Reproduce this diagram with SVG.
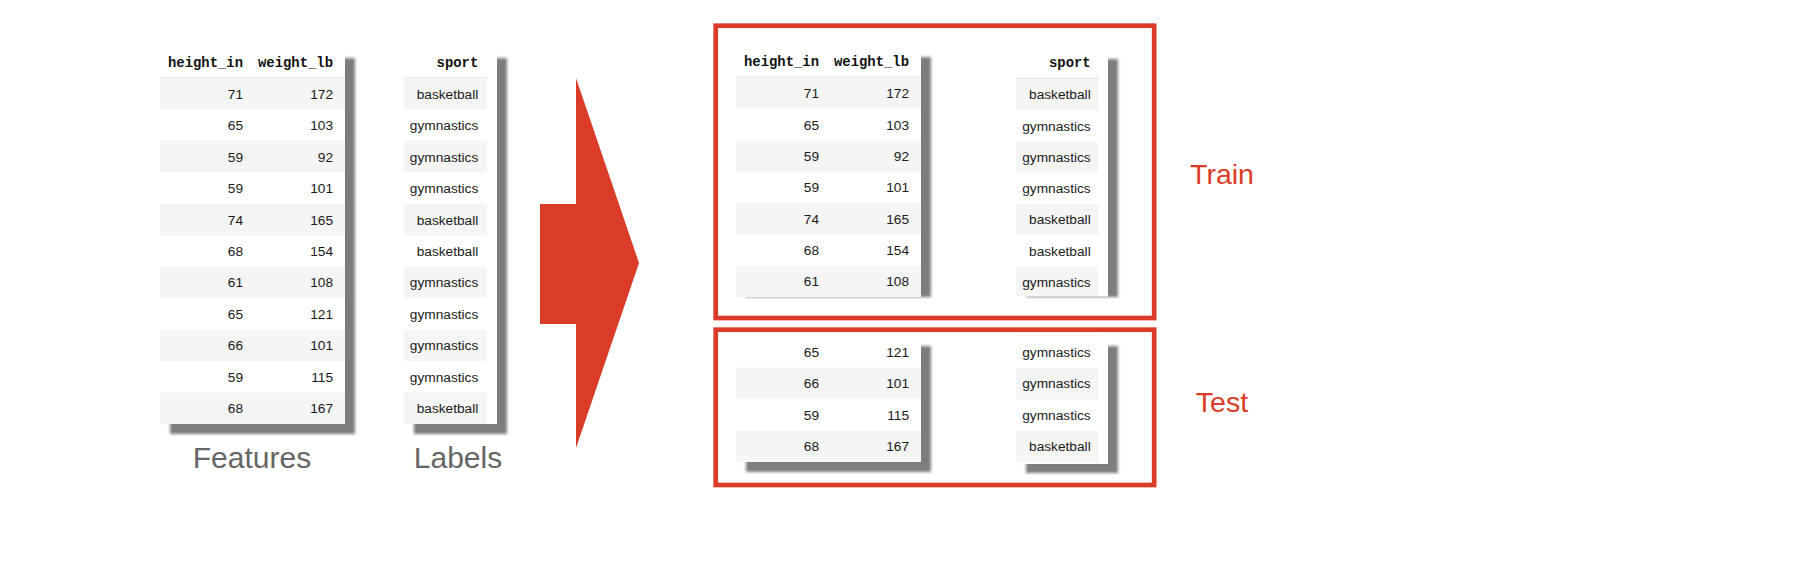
<svg xmlns="http://www.w3.org/2000/svg" width="1804" height="580" viewBox="0 0 1804 580">
<defs>
<filter id="sh" x="-10%" y="-10%" width="120%" height="120%"><feGaussianBlur stdDeviation="1.4"/></filter>
<style>
.shadow{fill:#7d7d7d;filter:url(#sh)}
.tbl{fill:#ffffff}
.stripe{fill:#f5f5f5}
.hline{stroke:#dddddd;stroke-width:1}
.hd{font-family:"Liberation Mono","Courier New",monospace;font-weight:bold;font-size:13.9px;fill:#111;text-anchor:end}
.d{font-family:"Liberation Sans",Arial,Helvetica,sans-serif;font-size:13.7px;fill:#1a1a1a;text-anchor:end}
.cap{font-family:"Liberation Sans",Arial,Helvetica,sans-serif;font-size:30px;fill:#666666;text-anchor:middle}
.red{fill:#da3c27}
.box{fill:none;stroke:#da3c27;stroke-width:4.7}
.split{font-family:"Liberation Sans",Arial,Helvetica,sans-serif;font-size:28.5px;fill:#da3c27;text-anchor:middle}
</style>
</defs>
<rect width="1804" height="580" fill="#ffffff"/>

<g id="features-table">
<rect class="shadow" x="170" y="58" width="185" height="376"/>
<rect class="tbl" x="160" y="48" width="185" height="376"/>
<line class="hline" x1="160" y1="78" x2="345" y2="78"/>
<text class="hd" x="243" y="66.7">height_in</text>
<text class="hd" x="333" y="66.7">weight_lb</text>
<rect class="stripe" x="160" y="78.5" width="185" height="30.95"/>
<rect class="stripe" x="160" y="140.9" width="185" height="31.45"/>
<rect class="stripe" x="160" y="203.8" width="185" height="31.45"/>
<rect class="stripe" x="160" y="266.7" width="185" height="31.45"/>
<rect class="stripe" x="160" y="329.6" width="185" height="31.45"/>
<rect class="stripe" x="160" y="392.5" width="185" height="31.45"/>
<text class="d" x="243" y="98.7">71</text><text class="d" x="333" y="98.7">172</text>
<text class="d" x="243" y="130.2">65</text><text class="d" x="333" y="130.2">103</text>
<text class="d" x="243" y="161.6">59</text><text class="d" x="333" y="161.6">92</text>
<text class="d" x="243" y="193.1">59</text><text class="d" x="333" y="193.1">101</text>
<text class="d" x="243" y="224.5">74</text><text class="d" x="333" y="224.5">165</text>
<text class="d" x="243" y="256">68</text><text class="d" x="333" y="256">154</text>
<text class="d" x="243" y="287.4">61</text><text class="d" x="333" y="287.4">108</text>
<text class="d" x="243" y="318.9">65</text><text class="d" x="333" y="318.9">121</text>
<text class="d" x="243" y="350.3">66</text><text class="d" x="333" y="350.3">101</text>
<text class="d" x="243" y="381.8">59</text><text class="d" x="333" y="381.8">115</text>
<text class="d" x="243" y="413.2">68</text><text class="d" x="333" y="413.2">167</text>
</g>

<g id="labels-table">
<rect class="shadow" x="414" y="58" width="93" height="376"/>
<rect class="tbl" x="404" y="48" width="93" height="376"/>
<line class="hline" x1="404" y1="78" x2="486.5" y2="78"/>
<text class="hd" x="478.3" y="66.7">sport</text>
<rect class="stripe" x="404" y="78.5" width="82.5" height="30.95"/>
<rect class="stripe" x="404" y="140.9" width="82.5" height="31.45"/>
<rect class="stripe" x="404" y="203.8" width="82.5" height="31.45"/>
<rect class="stripe" x="404" y="266.7" width="82.5" height="31.45"/>
<rect class="stripe" x="404" y="329.6" width="82.5" height="31.45"/>
<rect class="stripe" x="404" y="392.5" width="82.5" height="31.45"/>
<text class="d" x="478.3" y="98.7">basketball</text>
<text class="d" x="478.3" y="130.2">gymnastics</text>
<text class="d" x="478.3" y="161.6">gymnastics</text>
<text class="d" x="478.3" y="193.1">gymnastics</text>
<text class="d" x="478.3" y="224.5">basketball</text>
<text class="d" x="478.3" y="256">basketball</text>
<text class="d" x="478.3" y="287.4">gymnastics</text>
<text class="d" x="478.3" y="318.9">gymnastics</text>
<text class="d" x="478.3" y="350.3">gymnastics</text>
<text class="d" x="478.3" y="381.8">gymnastics</text>
<text class="d" x="478.3" y="413.2">basketball</text>
</g>

<g id="caption-features"><text class="cap" x="252" y="467.5">Features</text></g>
<g id="caption-labels"><text class="cap" x="458" y="467.5">Labels</text></g>

<g id="connectors">
<polygon class="red" points="540,204 576,204 576,78 639,263 576,448 576,324 540,324"/>
</g>

<g id="train-box">
<rect class="box" x="715.7" y="25.7" width="438.5" height="292.3"/>
<rect class="shadow" x="746" y="57" width="185" height="240"/>
<rect class="tbl" x="736" y="47" width="185" height="250"/>
<line class="hline" x1="736" y1="77" x2="921" y2="77"/>
<text class="hd" x="819" y="66">height_in</text>
<text class="hd" x="909" y="66">weight_lb</text>
<rect class="stripe" x="736" y="77.5" width="185" height="31.35"/>
<rect class="stripe" x="736" y="140.2" width="185" height="31.35"/>
<rect class="stripe" x="736" y="202.9" width="185" height="31.35"/>
<rect class="stripe" x="736" y="265.6" width="185" height="31.35"/>
<text class="d" x="819" y="98.2">71</text><text class="d" x="909" y="98.2">172</text>
<text class="d" x="819" y="129.5">65</text><text class="d" x="909" y="129.5">103</text>
<text class="d" x="819" y="160.9">59</text><text class="d" x="909" y="160.9">92</text>
<text class="d" x="819" y="192.2">59</text><text class="d" x="909" y="192.2">101</text>
<text class="d" x="819" y="223.6">74</text><text class="d" x="909" y="223.6">165</text>
<text class="d" x="819" y="254.9">68</text><text class="d" x="909" y="254.9">154</text>
<text class="d" x="819" y="286.3">61</text><text class="d" x="909" y="286.3">108</text>

<rect class="shadow" x="1026" y="59" width="92" height="238"/>
<rect class="tbl" x="1016" y="49" width="92" height="247.5"/>
<line class="hline" x1="1016" y1="78.3" x2="1098.3" y2="78.3"/>
<text class="hd" x="1090.7" y="67">sport</text>
<rect class="stripe" x="1016" y="79" width="82.3" height="31"/>
<rect class="stripe" x="1016" y="141.5" width="82.3" height="31"/>
<rect class="stripe" x="1016" y="204" width="82.3" height="31"/>
<rect class="stripe" x="1016" y="266.5" width="82.3" height="29.5"/>
<text class="d" x="1090.7" y="99.3">basketball</text>
<text class="d" x="1090.7" y="130.5">gymnastics</text>
<text class="d" x="1090.7" y="161.8">gymnastics</text>
<text class="d" x="1090.7" y="193">gymnastics</text>
<text class="d" x="1090.7" y="224.3">basketball</text>
<text class="d" x="1090.7" y="255.5">basketball</text>
<text class="d" x="1090.7" y="286.8">gymnastics</text>
<text class="split" x="1222" y="184">Train</text>
</g>

<g id="test-box">
<rect class="box" x="715.7" y="329.7" width="438.5" height="155.3"/>
<rect class="shadow" x="746" y="346" width="185" height="126"/>
<rect class="tbl" x="736" y="336" width="185" height="126"/>
<rect class="stripe" x="736" y="367.5" width="185" height="31.5"/>
<rect class="stripe" x="736" y="430.5" width="185" height="31.5"/>
<text class="d" x="819" y="356.7">65</text><text class="d" x="909" y="356.7">121</text>
<text class="d" x="819" y="388.2">66</text><text class="d" x="909" y="388.2">101</text>
<text class="d" x="819" y="419.7">59</text><text class="d" x="909" y="419.7">115</text>
<text class="d" x="819" y="451.2">68</text><text class="d" x="909" y="451.2">167</text>

<rect class="shadow" x="1026" y="346" width="92" height="127"/>
<rect class="tbl" x="1016" y="336" width="92" height="128"/>
<line class="hline" x1="1016" y1="335.5" x2="1098.3" y2="335.5" style="stroke:#f0f0f0"/>
<rect class="stripe" x="1016" y="368" width="82.3" height="31.5"/>
<rect class="stripe" x="1016" y="431" width="82.3" height="31.3"/>
<text class="d" x="1090.7" y="356.7">gymnastics</text>
<text class="d" x="1090.7" y="388.2">gymnastics</text>
<text class="d" x="1090.7" y="419.7">gymnastics</text>
<text class="d" x="1090.7" y="451.2">basketball</text>
<text class="split" x="1222" y="411.5">Test</text>
</g>
</svg>
